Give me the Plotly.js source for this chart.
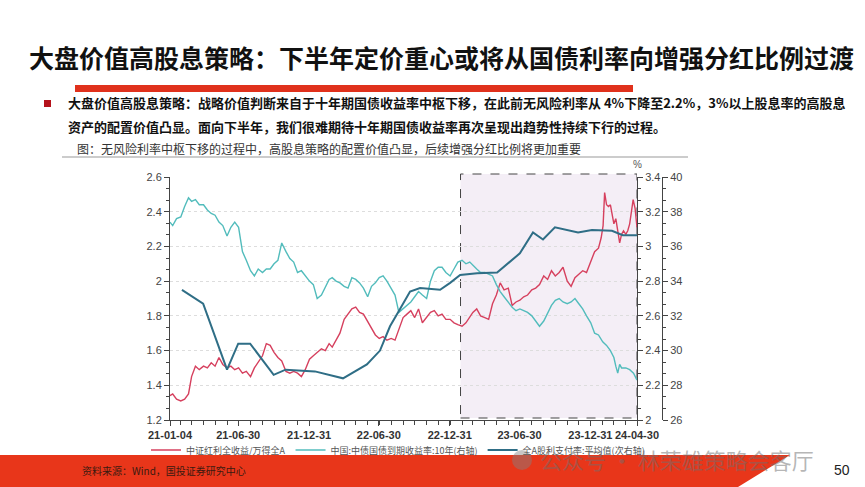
<!DOCTYPE html>
<html>
<head>
<meta charset="utf-8">
<script src="https://cdn.plot.ly/plotly-3.0.1.min.js"></script>
<style>
html,body{margin:0;padding:0;background:#fff;}
#chart{width:865px;height:487px;}
</style>
</head>
<body>
<div id="chart"></div>
<script>
// ---- Data ----
const redDates = ['2021-01-04','2021-01-11','2021-01-21','2021-02-01','2021-02-11','2021-02-21','2021-03-01','2021-03-11','2021-03-21','2021-04-01','2021-04-11','2021-04-21','2021-05-01','2021-05-11','2021-05-21','2021-06-01','2021-06-11','2021-06-21','2021-07-01','2021-07-11','2021-07-21','2021-08-01','2021-08-11','2021-08-21','2021-09-01','2021-09-11','2021-09-21','2021-10-01','2021-10-11','2021-10-21','2021-11-01','2021-11-11','2021-11-21','2021-12-01','2021-12-11','2021-12-21','2022-01-01','2022-01-11','2022-01-21','2022-02-01','2022-02-11','2022-02-21','2022-03-01','2022-03-11','2022-03-21','2022-04-01','2022-04-11','2022-04-21','2022-05-01','2022-05-11','2022-05-21','2022-06-01','2022-06-11','2022-06-21','2022-07-01','2022-07-11','2022-07-21','2022-08-01','2022-08-11','2022-08-21','2022-09-01','2022-09-11','2022-09-21','2022-10-01','2022-10-11','2022-10-21','2022-11-01','2022-11-11','2022-11-21','2022-12-01','2022-12-11','2022-12-21','2023-01-01','2023-01-11','2023-01-21','2023-02-01','2023-02-11','2023-02-21','2023-03-01','2023-03-11','2023-03-21','2023-04-01','2023-04-11','2023-04-21','2023-05-01','2023-05-11','2023-05-21','2023-06-01','2023-06-11','2023-06-21','2023-07-01','2023-07-11','2023-07-21','2023-08-01','2023-08-11','2023-08-21','2023-09-01','2023-09-11','2023-09-21','2023-10-01','2023-10-11','2023-10-21','2023-11-01','2023-11-11','2023-11-21','2023-12-01','2023-12-11','2023-12-21','2024-01-01','2024-01-11','2024-01-21','2024-01-28','2024-02-02','2024-02-06','2024-02-11','2024-02-16','2024-02-21','2024-02-26','2024-03-01','2024-03-06','2024-03-11','2024-03-16','2024-03-21','2024-03-26','2024-04-01','2024-04-06','2024-04-11','2024-04-16','2024-04-20','2024-04-25','2024-04-30'];
const redValues = [1.34,1.35,1.32,1.31,1.32,1.35,1.45,1.51,1.49,1.51,1.50,1.53,1.51,1.56,1.52,1.50,1.51,1.49,1.50,1.47,1.48,1.45,1.50,1.53,1.57,1.64,1.63,1.59,1.56,1.54,1.48,1.47,1.48,1.47,1.45,1.49,1.55,1.57,1.59,1.61,1.60,1.64,1.62,1.66,1.70,1.78,1.81,1.84,1.85,1.82,1.81,1.77,1.73,1.69,1.67,1.68,1.66,1.67,1.66,1.72,1.79,1.81,1.83,1.79,1.84,1.76,1.79,1.82,1.83,1.80,1.81,1.78,1.78,1.76,1.75,1.74,1.76,1.79,1.82,1.84,1.80,1.79,1.78,1.87,1.92,1.99,1.95,1.96,1.86,1.88,1.89,1.91,1.92,1.95,1.96,1.98,2.03,2.01,2.06,2.03,2.05,2.08,2.00,1.97,2.02,2.04,2.06,2.05,2.11,2.17,2.19,2.25,2.32,2.51,2.44,2.43,2.44,2.37,2.33,2.36,2.29,2.22,2.27,2.29,2.27,2.29,2.33,2.40,2.47,2.42,2.31];

const tealDates = ['2021-01-04','2021-01-11','2021-01-21','2021-02-01','2021-02-11','2021-02-21','2021-03-01','2021-03-11','2021-03-21','2021-04-01','2021-04-11','2021-04-21','2021-05-01','2021-05-11','2021-05-21','2021-06-01','2021-06-11','2021-06-21','2021-07-01','2021-07-11','2021-07-21','2021-08-01','2021-08-11','2021-08-21','2021-09-01','2021-09-11','2021-09-21','2021-10-01','2021-10-11','2021-10-21','2021-11-01','2021-11-11','2021-11-21','2021-12-01','2021-12-11','2021-12-21','2022-01-01','2022-01-11','2022-01-21','2022-02-01','2022-02-11','2022-02-21','2022-03-01','2022-03-11','2022-03-21','2022-04-01','2022-04-11','2022-04-21','2022-05-01','2022-05-11','2022-05-21','2022-06-01','2022-06-11','2022-06-21','2022-07-01','2022-07-11','2022-07-21','2022-08-01','2022-08-11','2022-08-21','2022-09-01','2022-09-11','2022-09-21','2022-10-01','2022-10-11','2022-10-21','2022-11-01','2022-11-11','2022-11-21','2022-12-01','2022-12-11','2022-12-21','2023-01-01','2023-01-11','2023-01-21','2023-02-01','2023-02-11','2023-02-21','2023-03-01','2023-03-11','2023-03-21','2023-04-01','2023-04-11','2023-04-21','2023-05-01','2023-05-11','2023-05-21','2023-06-01','2023-06-11','2023-06-21','2023-07-01','2023-07-11','2023-07-21','2023-08-01','2023-08-11','2023-08-21','2023-09-01','2023-09-11','2023-09-21','2023-10-01','2023-10-11','2023-10-21','2023-11-01','2023-11-11','2023-11-21','2023-12-01','2023-12-11','2023-12-21','2024-01-01','2024-01-11','2024-01-21','2024-02-01','2024-02-11','2024-02-21','2024-03-01','2024-03-06','2024-03-11','2024-03-16','2024-03-21','2024-04-01','2024-04-11','2024-04-21','2024-04-30'];
const tealValues = [3.14,3.12,3.16,3.17,3.23,3.28,3.26,3.27,3.24,3.24,3.21,3.19,3.18,3.14,3.12,3.06,3.11,3.14,3.11,2.97,2.92,2.86,2.83,2.87,2.85,2.87,2.87,2.90,2.92,3.02,2.97,2.93,2.91,2.85,2.86,2.83,2.80,2.78,2.70,2.72,2.77,2.81,2.82,2.80,2.79,2.77,2.76,2.82,2.81,2.79,2.76,2.71,2.77,2.79,2.82,2.83,2.80,2.76,2.72,2.62,2.64,2.66,2.68,2.71,2.74,2.72,2.70,2.80,2.86,2.88,2.88,2.85,2.83,2.87,2.91,2.92,2.90,2.91,2.89,2.87,2.85,2.85,2.84,2.83,2.78,2.74,2.71,2.68,2.65,2.63,2.64,2.63,2.62,2.60,2.57,2.54,2.57,2.62,2.66,2.69,2.70,2.68,2.67,2.68,2.70,2.67,2.64,2.60,2.56,2.50,2.49,2.45,2.43,2.40,2.36,2.31,2.27,2.32,2.30,2.30,2.29,2.27,2.23];

const blueDates = ['2021-02-04','2021-03-31','2021-06-01','2021-06-30','2021-07-31','2021-09-30','2021-10-31','2022-01-15','2022-03-29','2022-05-30','2022-07-03','2022-07-29','2022-08-24','2022-09-19','2022-10-15','2022-12-06','2023-01-01','2023-01-27','2023-03-12','2023-05-03','2023-07-01','2023-08-04','2023-08-30','2023-09-30','2023-11-29','2024-01-04','2024-02-25','2024-03-24','2024-04-30'];
const blueValues = [33.5,32.7,28.9,30.4,30.4,28.6,28.9,28.8,28.4,29.2,30.0,31.4,32.4,33.4,33.6,33.5,33.9,34.35,34.45,34.5,35.6,36.8,36.4,37.1,36.8,36.95,36.9,36.65,36.65];

const seriesNames = ['中证红利全收益/万得全A','中国:中债国债到期收益率:10年(右轴)','全A股利支付率:平均值(次右轴)'];
const xTickVals = ['2021-01-04','2021-06-30','2021-12-31','2022-06-30','2022-12-31','2023-06-30','2023-12-31','2024-04-30'];
const xTickText = ['21-01-04','21-06-30','21-12-31','22-06-30','22-12-31','23-06-30','23-12-31','24-04-30'];
const leftTicks = [1.2,1.4,1.6,1.8,2.0,2.2,2.4,2.6];
const leftTickText = ['1.2','1.4','1.6','1.8','2','2.2','2.4','2.6'];
const rightTicks = [2.0,2.2,2.4,2.6,2.8,3.0,3.2,3.4];
const rightTickText = ['2','2.2','2.4','2.6','2.8','3','3.2','3.4'];
const right2Ticks = [26,28,30,32,34,36,38,40];
const highlightStart = '2023-01-28';
const highlightEnd = '2024-04-30';

// ---- Page geometry helpers ----
const W = 865, H = 487;
const px = x => x / W;
const py = y => 1 - y / H;

const CJK = '"Noto Sans CJK SC", "Noto Sans", sans-serif';

const traces = [
  {x: redDates, y: redValues, name: seriesNames[0], type: 'scatter', mode: 'lines',
   line: {color: '#d6405e', width: 1.4}, yaxis: 'y'},
  {x: tealDates, y: tealValues, name: seriesNames[1], type: 'scatter', mode: 'lines',
   line: {color: '#52bcbc', width: 1.4}, yaxis: 'y2'},
  {x: blueDates, y: blueValues, name: seriesNames[2], type: 'scatter', mode: 'lines',
   line: {color: '#2f6e86', width: 2}, yaxis: 'y3'}
];

const tickFont = {family: '"Liberation Sans", Arial, sans-serif', size: 11, color: '#444'};

const layout = {
  width: W, height: H,
  margin: {l: 0, r: 0, t: 0, b: 0},
  paper_bgcolor: '#ffffff', plot_bgcolor: 'rgba(0,0,0,0)',
  showlegend: true,
  legend: {orientation: 'h', x: px(398), xanchor: 'center', y: py(450), yanchor: 'middle',
    font: {family: CJK, size: 9, color: '#555'}, bgcolor: 'rgba(0,0,0,0)', itemwidth: 30, traceorder: 'normal'},
  xaxis: {
    domain: [px(170), px(637)], type: 'date', range: ['2021-01-04', '2024-04-30'],
    tickmode: 'array', tickvals: xTickVals, ticktext: xTickText,
    tickfont: {family: '"Liberation Sans", Arial, sans-serif', size: 11, color: '#333', weight: 'bold'},
    showline: true, linecolor: '#444', linewidth: 1, ticks: 'outside', ticklen: 5, tickcolor: '#444',
    showgrid: false, zeroline: false,
    minor: {dtick: 'M1', tick0: '2021-01-01', ticks: 'outside', ticklen: 4, tickcolor: '#444', showgrid: false}
  },
  yaxis: {
    domain: [1 - 420 / H, 1 - 177 / H], range: [1.2, 2.6],
    tickmode: 'array', tickvals: leftTicks, ticktext: leftTickText, tickfont: tickFont,
    showline: true, linecolor: '#444', ticks: 'outside', ticklen: 5, tickcolor: '#444',
    showgrid: true, gridcolor: '#dddddd', griddash: 'dot', gridwidth: 1, zeroline: false,
    minor: {tick0: 1.2, dtick: 0.2 / 3, ticks: 'outside', ticklen: 3, tickcolor: '#444', showgrid: false}
  },
  yaxis2: {
    overlaying: 'y', side: 'right', anchor: 'x', range: [2.0, 3.4],
    tickmode: 'array', tickvals: rightTicks, ticktext: rightTickText, tickfont: tickFont,
    showline: true, linecolor: '#444', ticks: 'outside', ticklen: 5, tickcolor: '#444',
    showgrid: false, zeroline: false,
    minor: {tick0: 2.0, dtick: 0.2 / 3, ticks: 'outside', ticklen: 3, tickcolor: '#444', showgrid: false}
  },
  yaxis3: {
    overlaying: 'y', side: 'right', anchor: 'free', position: px(662), range: [26, 40],
    tickmode: 'array', tickvals: right2Ticks, tickfont: tickFont,
    showline: true, linecolor: '#444', ticks: 'outside', ticklen: 5, tickcolor: '#444',
    showgrid: false, zeroline: false,
    minor: {tick0: 26, dtick: 2 / 3, ticks: 'outside', ticklen: 3, tickcolor: '#444', showgrid: false}
  },
  shapes: [
    // highlighted period
    {type: 'rect', xref: 'x', yref: 'paper', x0: highlightStart, x1: highlightEnd, y0: py(418), y1: py(174),
     fillcolor: '#f4eef6', line: {color: '#444', width: 1, dash: 'dash'}, layer: 'below'},
    // red bar under title
    {type: 'rect', xref: 'paper', yref: 'paper', x0: px(75), x1: px(633), y0: py(92), y1: py(85),
     fillcolor: '#e0311c', line: {width: 0}},
    // bullet square
    {type: 'rect', xref: 'paper', yref: 'paper', x0: px(44), x1: px(51), y0: py(107), y1: py(100),
     fillcolor: '#b5121b', line: {width: 0}},
    // caption underline
    {type: 'line', xref: 'paper', yref: 'paper', x0: px(62), x1: px(688), y0: py(157), y1: py(157),
     line: {color: '#999', width: 1}},
    // footer band
    {type: 'path', xref: 'paper', yref: 'paper',
     path: 'M 0 ' + py(455) + ' L ' + px(790) + ' ' + py(455) + ' L ' + px(738) + ' 0 L 0 0 Z',
     fillcolor: '#e8361a', line: {width: 0}},
    // watermark logo
    {type: 'circle', xref: 'paper', yref: 'paper', x0: px(512), x1: px(532), y0: py(470), y1: py(450),
     fillcolor: 'rgba(130,130,130,0.45)', line: {width: 0}}
  ],
  annotations: [
    {xref: 'paper', yref: 'paper', x: px(442), y: py(57), xanchor: 'center', yanchor: 'middle', showarrow: false,
     text: '大盘价值高股息策略：下半年定价重心或将从国债利率向增强分红比例过渡',
     font: {family: CJK, size: 25, color: '#111', weight: 'bold'}},
    {xref: 'paper', yref: 'paper', x: px(66), y: py(103), xanchor: 'left', yanchor: 'middle', showarrow: false,
     text: '大盘价值高股息策略：战略价值判断来自于十年期国债收益率中枢下移，在此前无风险利率从 4%下降至2.2%，3%以上股息率的高股息',
     font: {family: CJK, size: 13, color: '#111', weight: 'bold'}},
    {xref: 'paper', yref: 'paper', x: px(66), y: py(127), xanchor: 'left', yanchor: 'middle', showarrow: false,
     text: '资产的配置价值凸显。面向下半年，我们很难期待十年期国债收益率再次呈现出趋势性持续下行的过程。',
     font: {family: CJK, size: 13, color: '#111', weight: 'bold'}},
    {xref: 'paper', yref: 'paper', x: px(75), y: py(148), xanchor: 'left', yanchor: 'middle', showarrow: false,
     text: '图：无风险利率中枢下移的过程中，高股息策略的配置价值凸显，后续增强分红比例将更加重要',
     font: {family: CJK, size: 12, color: '#333'}},
    {xref: 'paper', yref: 'paper', x: px(637), y: py(164), xanchor: 'center', yanchor: 'middle', showarrow: false,
     text: '%', font: {family: '"Liberation Sans", Arial, sans-serif', size: 10, color: '#555'}},
    {xref: 'paper', yref: 'paper', x: px(80), y: py(470), xanchor: 'left', yanchor: 'middle', showarrow: false,
     text: '资料来源：Wind，国投证券研究中心', font: {family: CJK, size: 10, color: '#3a1a10'}},
    {xref: 'paper', yref: 'paper', x: px(842), y: py(470), xanchor: 'center', yanchor: 'middle', showarrow: false,
     text: '50', font: {family: '"Liberation Sans", Arial, sans-serif', size: 14, color: '#222'}},
    {xref: 'paper', yref: 'paper', x: px(538), y: py(459), xanchor: 'left', yanchor: 'middle', showarrow: false,
     text: '公众号 · 林荣雄策略会客厅', font: {family: CJK, size: 22, color: 'rgba(110,110,110,0.5)'}}
  ]
};

Plotly.newPlot('chart', traces, layout, {displayModeBar: false, staticPlot: true});
</script>
</body>
</html>
